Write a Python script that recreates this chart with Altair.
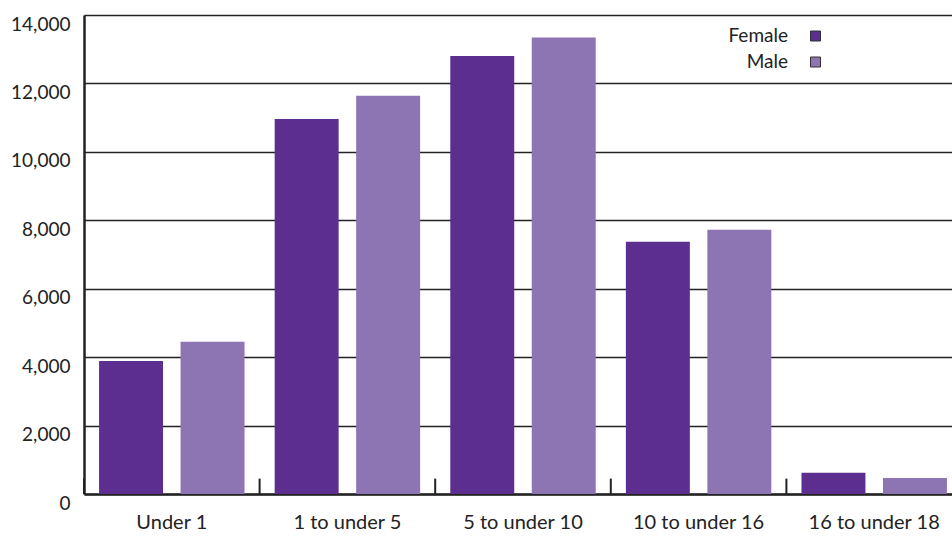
import altair as alt
import pandas as pd

ages = ["Under 1", "1 to under 5", "5 to under 10", "10 to under 16", "16 to under 18"]
female = [3890, 10960, 12800, 7370, 620]
male = [4450, 11640, 13340, 7720, 470]
sexes = ["Female", "Male"]
colors = ["#5B2E8F", "#8D74B2"]
y_ticks = [0, 2000, 4000, 6000, 8000, 10000, 12000, 14000]

rows = []
for a, f, m in zip(ages, female, male):
    rows.append({"age": a, "sex": "Female", "value": f})
    rows.append({"age": a, "sex": "Male", "value": m})
df = pd.DataFrame(rows)
cats = pd.DataFrame({"age": ages, "y0": [0] * len(ages), "y1": [450] * len(ages)})
legend_df = pd.DataFrame({"sex": sexes})

FONT = "Lato"
INK = "#222222"

x_enc = alt.X(
    "age:N",
    sort=ages,
    scale=alt.Scale(domain=ages, range=[0, 878], paddingInner=0, paddingOuter=0),
    axis=alt.Axis(
        title=None, labelAngle=0, ticks=False, domain=True, domainColor=INK,
        domainWidth=2.5, labelFont=FONT, labelFontSize=20, labelColor=INK,
        labelPadding=18, labelBaseline="top",
    ),
)

color_scale = alt.Scale(domain=sexes, range=colors)

bars = alt.Chart(df).mark_bar().encode(
    x=x_enc,
    xOffset=alt.XOffset("sex:N", sort=sexes,
                        scale=alt.Scale(domain=sexes, paddingInner=0.215, paddingOuter=0.185)),
    y=alt.Y(
        "value:Q",
        scale=alt.Scale(domain=[0, 14000], nice=False),
        axis=alt.Axis(
            title=None, values=y_ticks, format=",.0f", ticks=False, domain=True,
            domainColor=INK, domainWidth=2.5, grid=True, gridColor=INK,
            gridWidth=1.6, labelFont=FONT, labelFontSize=19, labelColor=INK,
            labelPadding=14, labelOffset=9,
        ),
    ),
    color=alt.Color("sex:N", sort=sexes, scale=color_scale, legend=None),
)

ticks = alt.Chart(cats).mark_rule(color=INK, strokeWidth=2).encode(
    x=alt.X("age:N", sort=ages, bandPosition=0),
    y=alt.Y("y0:Q"),
    y2="y1:Q",
)

legend_y = alt.Y("sex:N", sort=sexes,
                 scale=alt.Scale(domain=sexes, range=[21, 47], padding=0), axis=None)

legend_text = alt.Chart(legend_df).mark_text(
    align="right", baseline="middle", font=FONT, fontSize=19, color=INK
).encode(x=alt.value(704), y=legend_y, text="sex:N")

legend_sym = alt.Chart(legend_df).mark_square(
    size=100, opacity=1, stroke="#333333", strokeWidth=1
).encode(
    x=alt.value(731.5),
    y=legend_y,
    color=alt.Color("sex:N", sort=sexes, scale=color_scale, legend=None),
)

chart = alt.layer(
    alt.layer(bars, ticks),
    alt.layer(legend_text, legend_sym),
).resolve_scale(y="independent").properties(
    width=868,
    height=479,
    autosize=alt.AutoSizeParams(type="none"),
    padding={"left": 84, "top": 15, "right": 0, "bottom": 43},
).configure_view(stroke=None).configure(background="white")

chart.save("out.html", embed_options={"renderer": "svg", "actions": False})
